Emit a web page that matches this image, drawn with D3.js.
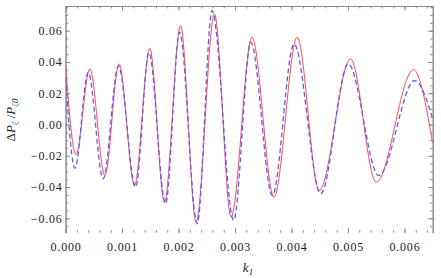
<!DOCTYPE html>
<html>
<head>
<meta charset="utf-8">
<style>
	body { margin: 0; background: #fff; }
	.axis text { font-family: "Liberation Serif", "DejaVu Serif", serif; font-size: 12px; fill: #222; letter-spacing: 0.8px; }
	.axis path, .axis line { stroke: #8a8a8a; }
	.lbl { font-family: "Liberation Serif", "DejaVu Serif", serif; font-size: 13px; fill: #222; }
</style>
</head>
<body>
<div id="chart"></div>

<script src="https://d3js.org/d3.v7.min.js"></script>
<script>

	var w = 441, h = 278;

	// red solid curve: k1 and ΔP/P read at its turning points
	var kRed = [0, 0.000183, 0.00043, 0.000695, 0.000947, 0.00122, 0.00149, 0.00175, 0.002035, 0.00231,
	            0.002635, 0.00293, 0.0033, 0.00369, 0.0041, 0.00449, 0.005045, 0.0055, 0.00616, 0.0065];
	var pRed = [0.038, -0.0192, 0.0356, -0.0326, 0.0388, -0.039, 0.0488, -0.0496, 0.0633, -0.0624,
	            0.0707, -0.0592, 0.0558, -0.0464, 0.0558, -0.0422, 0.042, -0.0369, 0.035, -0.012];

	// blue dashed curve
	var kBlue = [0, 0.000165, 0.0004, 0.000665, 0.000935, 0.00124, 0.001476, 0.00177, 0.002018, 0.00233,
	             0.002594, 0.002975, 0.00328, 0.00366, 0.004046, 0.004517, 0.005004, 0.005545, 0.00618, 0.0065];
	var pBlue = [0.03, -0.028, 0.0334, -0.0347, 0.0375, -0.040, 0.046, -0.0507, 0.059, -0.0635,
	             0.0728, -0.0613, 0.0526, -0.0454, 0.0515, -0.0443, 0.0388, -0.0326, 0.0281, 0.004];

	// tick values and labels
	var xTicks = [0, 0.001, 0.002, 0.003, 0.004, 0.005, 0.006];
	var xTickLabels = ["0.000", "0.001", "0.002", "0.003", "0.004", "0.005", "0.006"];
	var yTicks = [-0.06, -0.04, -0.02, 0, 0.02, 0.04, 0.06];
	var yTickLabels = ["\u22120.06", "\u22120.04", "\u22120.02", "0.00", "0.02", "0.04", "0.06"];
	var xMinor = d3.range(0, 33).map(function(i) { return i * 0.0002; });
	var yMinor = d3.range(-13, 16).map(function(i) { return i * 0.005; });

	var x0 = 65.6, x1 = 432.7, y0 = 6, y1 = 232.7;

	var svg = d3.select("#chart")
				.append("svg")
				.attr("width", w)
				.attr("height", h);

	var x = d3.scaleLinear().domain([0, 0.0065]).range([x0, x1]),
		y = d3.scaleLinear().domain([-0.0692, 0.0758]).range([y1, y0]);

	// minor ticks on all four sides
	svg.append("g").attr("class", "axis").attr("transform", "translate(0," + y1 + ")")
		.call(d3.axisBottom(x).tickValues(xMinor).tickSize(-2.5).tickFormat(""))
		.select(".domain").remove();
	svg.append("g").attr("class", "axis").attr("transform", "translate(0," + y0 + ")")
		.call(d3.axisTop(x).tickValues(xMinor).tickSize(-2.5).tickSizeOuter(0).tickFormat(""));
	svg.append("g").attr("class", "axis").attr("transform", "translate(" + x0 + ",0)")
		.call(d3.axisLeft(y).tickValues(yMinor).tickSize(-2.5).tickSizeOuter(0).tickFormat(""));
	svg.append("g").attr("class", "axis").attr("transform", "translate(" + x1 + ",0)")
		.call(d3.axisRight(y).tickValues(yMinor).tickSize(-2.5).tickSizeOuter(0).tickFormat(""));

	// major ticks
	svg.append("g").attr("class", "axis").attr("transform", "translate(0," + y1 + ")")
		.call(d3.axisBottom(x).tickValues(xTicks).tickSize(-4.5).tickPadding(9.5)
			.tickFormat(function(d, i) { return xTickLabels[i]; }))
		.select(".domain").remove();
	svg.append("g").attr("class", "axis").attr("transform", "translate(0," + y0 + ")")
		.call(d3.axisTop(x).tickValues(xTicks).tickSize(-4.5).tickSizeOuter(0).tickFormat(""));
	svg.append("g").attr("class", "axis").attr("transform", "translate(" + x0 + ",0)")
		.call(d3.axisLeft(y).tickValues(yTicks).tickSize(-4.5).tickSizeOuter(0).tickPadding(3)
			.tickFormat(function(d, i) { return yTickLabels[i]; }));
	svg.append("g").attr("class", "axis").attr("transform", "translate(" + x1 + ",0)")
		.call(d3.axisRight(y).tickValues(yTicks).tickSize(-4.5).tickSizeOuter(0).tickFormat(""));

	svg.selectAll(".axis line").attr("stroke", "#8a8a8a");
	svg.selectAll(".axis .domain").attr("stroke", "#8a8a8a");

	// clip curves to the frame
	svg.append("clipPath").attr("id", "clip")
		.append("rect").attr("x", x0).attr("y", y0).attr("width", x1 - x0).attr("height", y1 - y0);

	var line = d3.line()
		.x(function(d) { return x(d[0]); })
		.y(function(d) { return y(d[1]); })
		.curve(d3.curveMonotoneX);

	svg.append("path")
		.datum(d3.zip(kRed, pRed))
		.attr("clip-path", "url(#clip)")
		.attr("fill", "none")
		.attr("stroke", "#ff4a4a")
		.attr("stroke-width", 1)
		.attr("d", line);

	svg.append("path")
		.datum(d3.zip(kBlue, pBlue))
		.attr("clip-path", "url(#clip)")
		.attr("fill", "none")
		.attr("stroke", "#5c5cff")
		.attr("stroke-width", 1.3)
		.attr("stroke-dasharray", "5,3")
		.attr("d", line);

	// axis titles
	var xl = svg.append("text").attr("class", "lbl")
		.attr("x", 248).attr("y", 272).attr("text-anchor", "middle");
	xl.append("tspan").attr("font-style", "italic").text("k");
	xl.append("tspan").attr("font-size", "9px").attr("font-style", "italic").attr("dy", 3).text("1");

	var yl = svg.append("text").attr("class", "lbl")
		.attr("transform", "translate(15,120) rotate(-90)")
		.attr("text-anchor", "middle");
	yl.append("tspan").text("\u0394");
	yl.append("tspan").attr("font-style", "italic").text("P");
	yl.append("tspan").attr("font-size", "9px").attr("font-style", "italic").attr("dy", 3)
		.attr("fill", "#4a8fd6").text("\u03b6");
	yl.append("tspan").attr("dy", -3).text(" /");
	yl.append("tspan").attr("font-style", "italic").text("P");
	yl.append("tspan").attr("font-size", "9px").attr("font-style", "italic").attr("dy", 3)
		.attr("fill", "#4a8fd6").text("\u03b6");
	yl.append("tspan").attr("font-size", "9px").attr("font-style", "italic").text("0");

</script>
</body>
</html>
